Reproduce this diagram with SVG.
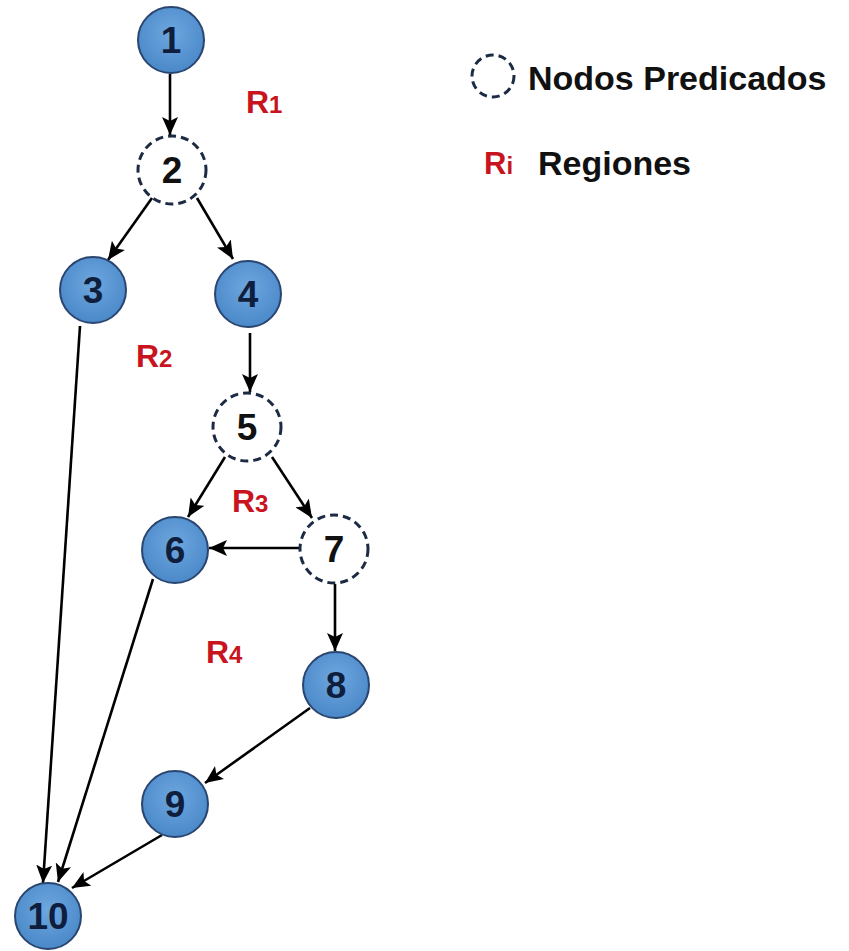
<svg xmlns="http://www.w3.org/2000/svg" width="849" height="951" viewBox="0 0 849 951">
  <style>
    .node { fill: url(#blueFill); stroke: #2a4670; stroke-width: 2; }
    .pred { fill: #ffffff; stroke: #1c2a44; stroke-width: 3; stroke-dasharray: 8 5; }
    .num  { font-family: "Liberation Sans", Arial, sans-serif; font-weight: bold; font-size: 37px; text-anchor: middle; }
    .num-b { fill: #0f1e3c; }
    .num-w { fill: #111111; }
    .edge { stroke: #000000; stroke-width: 2.6; fill: none; marker-end: url(#arrow); }
    .reg  { font-family: "Liberation Sans", Arial, sans-serif; font-weight: bold; fill: #c8141e; }
    .legend { font-family: "Liberation Sans", Arial, sans-serif; font-weight: bold; font-size: 34px; fill: #111111; }
  </style>
  <defs>
    <radialGradient id="blueFill" cx="50%" cy="40%" r="60%">
      <stop offset="0%" stop-color="#6ea7e0"/>
      <stop offset="100%" stop-color="#4a88c8"/>
    </radialGradient>
    <marker id="arrow" markerUnits="userSpaceOnUse" markerWidth="18" markerHeight="16" viewBox="0 0 18 16" refX="18" refY="8" orient="auto">
      <path d="M0,0 L18,8 L0,16 L4,8 Z" fill="#000000"/>
    </marker>
  </defs>

  <rect width="849" height="951" fill="#ffffff"/>

  <!-- connectors -->
  <g id="edges">
    <line class="edge" x1="170" y1="74" x2="170" y2="135"/>
    <line class="edge" x1="152" y1="198" x2="108" y2="260"/>
    <line class="edge" x1="197" y1="198" x2="233" y2="259"/>
    <line class="edge" x1="250" y1="333" x2="250" y2="392"/>
    <line class="edge" x1="225" y1="457" x2="188" y2="517"/>
    <line class="edge" x1="272" y1="457" x2="312" y2="518"/>
    <line class="edge" x1="300" y1="548" x2="209" y2="548"/>
    <line class="edge" x1="335" y1="584" x2="335" y2="651"/>
    <line class="edge" x1="310" y1="708" x2="205" y2="783"/>
    <line class="edge" x1="80" y1="326" x2="43" y2="883"/>
    <line class="edge" x1="153" y1="579" x2="58" y2="882"/>
    <line class="edge" x1="162" y1="835" x2="72" y2="888"/>
  </g>

  <!-- nodes -->
  <g id="n1"><circle class="node" cx="171" cy="40" r="33"/><text class="num num-b" x="171" y="53">1</text></g>
  <g id="n2"><circle class="pred" cx="172" cy="170" r="34"/><text class="num num-w" x="172" y="183">2</text></g>
  <g id="n3"><circle class="node" cx="93" cy="290" r="33"/><text class="num num-b" x="93" y="303">3</text></g>
  <g id="n4"><circle class="node" cx="248" cy="294" r="33"/><text class="num num-b" x="248" y="307">4</text></g>
  <g id="n5"><circle class="pred" cx="247" cy="427" r="34"/><text class="num num-w" x="247" y="440">5</text></g>
  <g id="n6"><circle class="node" cx="175" cy="550" r="33"/><text class="num num-b" x="175" y="563">6</text></g>
  <g id="n7"><circle class="pred" cx="334" cy="549" r="34"/><text class="num num-w" x="334" y="562">7</text></g>
  <g id="n8"><circle class="node" cx="336" cy="685" r="33"/><text class="num num-b" x="336" y="698">8</text></g>
  <g id="n9"><circle class="node" cx="175" cy="804" r="33"/><text class="num num-b" x="175" y="817">9</text></g>
  <g id="n10"><circle class="node" cx="48" cy="916" r="33"/><text class="num num-b" x="48" y="929">10</text></g>

  <!-- region labels -->
  <g id="regions">
    <text class="reg" x="246" y="113"><tspan font-size="32">R</tspan><tspan font-size="24">1</tspan></text>
    <text class="reg" x="136" y="367"><tspan font-size="32">R</tspan><tspan font-size="24">2</tspan></text>
    <text class="reg" x="232" y="512"><tspan font-size="32">R</tspan><tspan font-size="24">3</tspan></text>
    <text class="reg" x="206" y="663"><tspan font-size="32">R</tspan><tspan font-size="24">4</tspan></text>
  </g>

  <!-- legend -->
  <g id="legend">
    <circle class="pred" cx="493" cy="76" r="21" stroke-dasharray="7 4"/>
    <text class="legend" x="528" y="90">Nodos Predicados</text>
    <text class="reg" x="484" y="174"><tspan font-size="31">R</tspan><tspan font-size="24">i</tspan></text>
    <text class="legend" x="538" y="175">Regiones</text>
  </g>
</svg>
